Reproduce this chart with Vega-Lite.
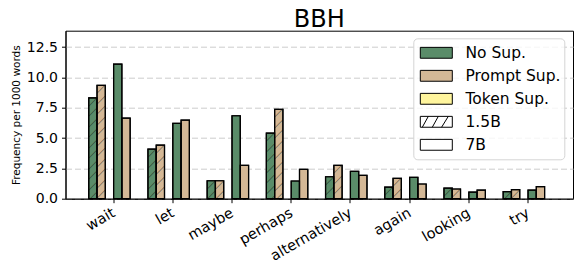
{
  "$schema": "https://vega.github.io/schema/vega-lite/v6.json",
  "width": 507.5,
  "height": 168,
  "autosize": "none",
  "padding": {"left": 65.5, "top": 30.7, "right": 4, "bottom": 71.3},
  "title": {"text": "BBH", "fontSize": 24, "font": "DejaVu Sans", "fontWeight": "normal", "color": "black", "anchor": "middle", "frame": "group", "baseline": "alphabetic", "offset": 3, "dy": 23},
  "data": {
    "values": [
      {"word": "wait", "method": "No Sup.", "model": "1.5B", "series": "No Sup. 1.5B", "freq": 8.32},
      {"word": "wait", "method": "Prompt Sup.", "model": "1.5B", "series": "Prompt Sup. 1.5B", "freq": 9.34},
      {"word": "wait", "method": "No Sup.", "model": "7B", "series": "No Sup. 7B", "freq": 11.1},
      {"word": "wait", "method": "Prompt Sup.", "model": "7B", "series": "Prompt Sup. 7B", "freq": 6.65},
      {"word": "let", "method": "No Sup.", "model": "1.5B", "series": "No Sup. 1.5B", "freq": 4.09},
      {"word": "let", "method": "Prompt Sup.", "model": "1.5B", "series": "Prompt Sup. 1.5B", "freq": 4.42},
      {"word": "let", "method": "No Sup.", "model": "7B", "series": "No Sup. 7B", "freq": 6.21},
      {"word": "let", "method": "Prompt Sup.", "model": "7B", "series": "Prompt Sup. 7B", "freq": 6.48},
      {"word": "maybe", "method": "No Sup.", "model": "1.5B", "series": "No Sup. 1.5B", "freq": 1.48},
      {"word": "maybe", "method": "Prompt Sup.", "model": "1.5B", "series": "Prompt Sup. 1.5B", "freq": 1.48},
      {"word": "maybe", "method": "No Sup.", "model": "7B", "series": "No Sup. 7B", "freq": 6.84},
      {"word": "maybe", "method": "Prompt Sup.", "model": "7B", "series": "Prompt Sup. 7B", "freq": 2.75},
      {"word": "perhaps", "method": "No Sup.", "model": "1.5B", "series": "No Sup. 1.5B", "freq": 5.41},
      {"word": "perhaps", "method": "Prompt Sup.", "model": "1.5B", "series": "Prompt Sup. 1.5B", "freq": 7.36},
      {"word": "perhaps", "method": "No Sup.", "model": "7B", "series": "No Sup. 7B", "freq": 1.46},
      {"word": "perhaps", "method": "Prompt Sup.", "model": "7B", "series": "Prompt Sup. 7B", "freq": 2.42},
      {"word": "alternatively", "method": "No Sup.", "model": "1.5B", "series": "No Sup. 1.5B", "freq": 1.81},
      {"word": "alternatively", "method": "Prompt Sup.", "model": "1.5B", "series": "Prompt Sup. 1.5B", "freq": 2.75},
      {"word": "alternatively", "method": "No Sup.", "model": "7B", "series": "No Sup. 7B", "freq": 2.25},
      {"word": "alternatively", "method": "Prompt Sup.", "model": "7B", "series": "Prompt Sup. 7B", "freq": 1.92},
      {"word": "again", "method": "No Sup.", "model": "1.5B", "series": "No Sup. 1.5B", "freq": 0.96},
      {"word": "again", "method": "Prompt Sup.", "model": "1.5B", "series": "Prompt Sup. 1.5B", "freq": 1.68},
      {"word": "again", "method": "No Sup.", "model": "7B", "series": "No Sup. 7B", "freq": 1.76},
      {"word": "again", "method": "Prompt Sup.", "model": "7B", "series": "Prompt Sup. 7B", "freq": 1.21},
      {"word": "looking", "method": "No Sup.", "model": "1.5B", "series": "No Sup. 1.5B", "freq": 0.88},
      {"word": "looking", "method": "Prompt Sup.", "model": "1.5B", "series": "Prompt Sup. 1.5B", "freq": 0.8},
      {"word": "looking", "method": "No Sup.", "model": "7B", "series": "No Sup. 7B", "freq": 0.55},
      {"word": "looking", "method": "Prompt Sup.", "model": "7B", "series": "Prompt Sup. 7B", "freq": 0.71},
      {"word": "try", "method": "No Sup.", "model": "1.5B", "series": "No Sup. 1.5B", "freq": 0.58},
      {"word": "try", "method": "Prompt Sup.", "model": "1.5B", "series": "Prompt Sup. 1.5B", "freq": 0.74},
      {"word": "try", "method": "No Sup.", "model": "7B", "series": "No Sup. 7B", "freq": 0.71},
      {"word": "try", "method": "Prompt Sup.", "model": "7B", "series": "Prompt Sup. 7B", "freq": 0.99}
    ]
  },
  "encoding": {
    "x": {
      "field": "word", "type": "nominal", "sort": null,
      "scale": {"paddingInner": 0.16, "paddingOuter": 0.366, "align": 0.536},
      "axis": {"title": null, "labelAngle": -30, "labelAlign": "right", "labelBaseline": "top", "labelFontSize": 14.5, "labelOffset": -3, "labelPadding": 3, "tickSize": 4, "grid": false}
    },
    "xOffset": {
      "field": "series", "type": "nominal",
      "scale": {"domain": ["No Sup. 1.5B", "Prompt Sup. 1.5B", "Token Sup. 1.5B", "No Sup. 7B", "Prompt Sup. 7B", "Token Sup. 7B"], "paddingInner": 0, "paddingOuter": 0}
    },
    "y": {
      "field": "freq", "type": "quantitative",
      "scale": {"domain": [0, 13.85], "nice": false},
      "axis": {"title": "Frequency per 1000 words", "titleFontSize": 10.5, "titleFontWeight": "normal", "titlePadding": 5, "values": [0, 2.5, 5, 7.5, 10, 12.5], "format": ".1f", "labelFontSize": 14, "tickSize": 4, "labelPadding": 4, "grid": true, "gridDash": [6, 3], "gridColor": "#cccccc", "gridWidth": 1}
    }
  },
  "layer": [
    {
      "mark": {"type": "bar", "stroke": "black", "strokeWidth": 1.2},
      "encoding": {
        "fill": {
          "field": "method", "type": "nominal",
          "scale": {"domain": ["No Sup.", "Prompt Sup.", "Token Sup.", "1.5B", "7B"], "range": ["#5a8c69", "#d4b896", "#fff59d", "#ffffff", "#ffffff"]},
          "legend": {
            "title": null, "orient": "none", "legendX": 347.8, "legendY": 7.6,
            "padding": 3, "clipHeight": 23, "rowPadding": 0, "symbolOffset": 3.5, "labelOffset": 12.7,
            "symbolSize": 1024, "symbolType": "M-1,-0.34H1V0.34H-1Z",
            "symbolStrokeColor": "black", "symbolStrokeWidth": 1, "symbolOpacity": 1,
            "labelFont": "DejaVu Sans", "labelFontSize": 15.5, "labelColor": "black", "labelBaseline": "middle", "labelLimit": 200,
            "fillColor": "rgba(255,255,255,0.8)", "strokeColor": "#d4d4d4", "cornerRadius": 4,
            "values": ["No Sup.", "Prompt Sup.", "Token Sup.", "1.5B", "7B"],
            "encode": {"symbols": {"update": {"shape": {"signal": "datum.value === '1.5B' ? 'M-1,-0.34H1V0.34H-1Z M-0.875,0.34L-0.5,-0.34 M-0.25,0.34L0.125,-0.34 M0.33,0.34L0.75,-0.34' : 'M-1,-0.34H1V0.34H-1Z'"}}}}
          }
        }
      }
    },
    {
      "transform": [{"filter": "datum.model === '1.5B' && datum.freq > 7"}],
      "mark": {"type": "text", "clip": true, "text": ["╱", "╱", "╱", "╱", "╱", "╱", "╱", "╱", "╱", "╱", "╱"], "font": "Noto Sans CJK SC", "fontWeight": "bold", "fontSize": 8.4, "lineHeight": 10.5, "baseline": "top", "align": "center", "color": "black"},
      "encoding": {}
    },
    {
      "transform": [{"filter": "datum.model === '1.5B' && datum.freq > 4 && datum.freq <= 7"}],
      "mark": {"type": "text", "clip": true, "text": ["╱", "╱", "╱", "╱", "╱", "╱", "╱"], "font": "Noto Sans CJK SC", "fontWeight": "bold", "fontSize": 8.4, "lineHeight": 10.5, "baseline": "top", "align": "center", "color": "black"},
      "encoding": {}
    },
    {
      "transform": [{"filter": "datum.model === '1.5B' && datum.freq > 2 && datum.freq <= 4"}],
      "mark": {"type": "text", "clip": true, "text": ["╱", "╱", "╱", "╱"], "font": "Noto Sans CJK SC", "fontWeight": "bold", "fontSize": 8.4, "lineHeight": 10.5, "baseline": "top", "align": "center", "color": "black"},
      "encoding": {}
    },
    {
      "transform": [{"filter": "datum.model === '1.5B' && datum.freq <= 2"}],
      "mark": {"type": "text", "clip": true, "text": ["╱", "╱", "╱"], "font": "Noto Sans CJK SC", "fontWeight": "bold", "fontSize": 8.4, "lineHeight": 10.5, "baseline": "top", "align": "center", "color": "black"},
      "encoding": {}
    },
    {
      "mark": {"type": "bar", "filled": false, "stroke": "black", "strokeWidth": 1.2},
      "encoding": {}
    }
  ],
  "config": {
    "font": "DejaVu Sans",
    "view": {"stroke": "black", "strokeWidth": 1},
    "axis": {"domainColor": "black", "tickColor": "black", "labelColor": "black", "titleColor": "black", "labelFont": "DejaVu Sans", "titleFont": "DejaVu Sans", "domainWidth": 1}
  }
}
